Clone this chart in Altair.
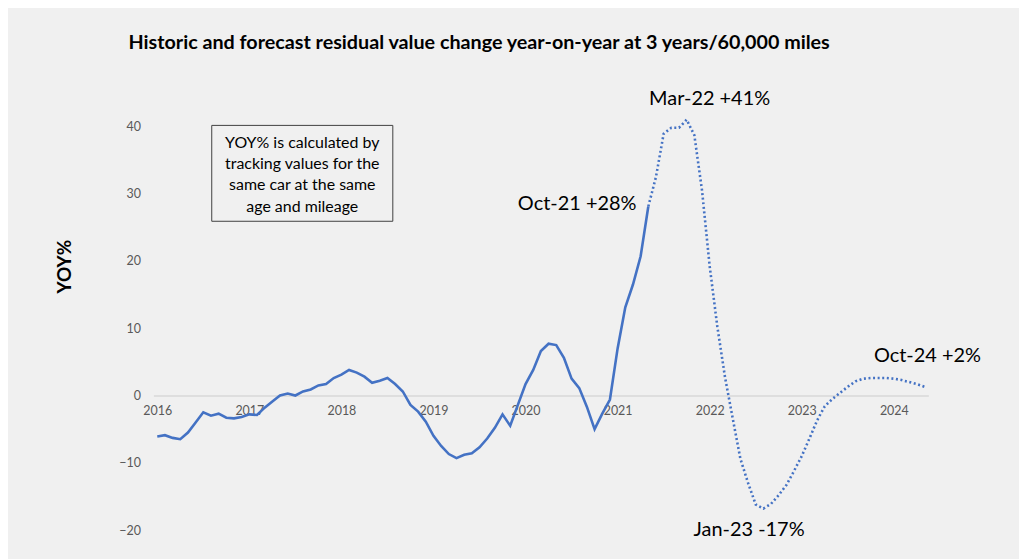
import altair as alt
import pandas as pd

# ---- data (month index 0 = Jun-2016, monthly) ----
hist_values = [-6.1, -5.9, -6.3, -6.5, -5.5, -4.0, -2.5, -3.0, -2.7, -3.3, -3.4, -3.2,
               -2.8, -2.9, -1.8, -0.9, 0.0, 0.3, 0.0, 0.6, 0.9, 1.5, 1.7, 2.6,
               3.1, 3.8, 3.4, 2.8, 1.9, 2.2, 2.6, 1.7, 0.6, -1.4, -2.4, -3.9,
               -6.0, -7.5, -8.7, -9.3, -8.8, -8.6, -7.7, -6.4, -4.8, -2.8, -4.5, -1.4,
               1.7, 3.8, 6.6, 7.7, 7.5, 5.6, 2.5, 1.1, -1.7, -5.0, -2.7, -0.6,
               7.0, 13.1, 16.5, 20.7, 28.1]
forecast_values = [28.1, 32.5, 38.9, 39.8, 39.8, 41.0, 38.7, 30.5, 19.2, 10.2, 2.7, -3.4,
                   -9.4, -13.0, -16.2, -16.8, -16.1, -14.8, -13.3, -11.2, -9.0, -6.4, -3.7, -1.6,
                   -0.5, 0.4, 1.3, 2.1, 2.5, 2.6, 2.6, 2.6, 2.5, 2.3, 2.0, 1.7, 1.3]
forecast_start = 64

year_labels = ["2016", "2017", "2018", "2019", "2020", "2021", "2022", "2023", "2024"]
year_ticks = [0, 12, 24, 36, 48, 60, 72, 84, 96]
y_ticks = [-20, -10, 0, 10, 20, 30, 40]

ann_text = ["Mar-22 +41%", "Oct-21 +28%", "Jan-23 -17%", "Oct-24 +2%"]
ann_x = [64.1, 47.0, 69.9, 93.4]
ann_y = [44.1, 28.4, -20.0, 5.9]

box_lines = ["YOY% is calculated by", "tracking values for the", "same car at the same", "age and mileage"]
box_x = [7.1, 30.7]
box_y = [40.15, 25.9]
box_first_line = [18.9, 37.6]

TITLE = "Historic and forecast residual value change year-on-year at 3 years/60,000 miles"
FONT = "Lato"
BLUE = "#4472C4"

hist_df = pd.DataFrame({"i": list(range(len(hist_values))), "v": hist_values})
fc_df = pd.DataFrame({"i": list(range(forecast_start, forecast_start + len(forecast_values))),
                      "v": forecast_values})
ann_df = pd.DataFrame({"i": ann_x, "v": ann_y, "t": ann_text})
box_df = pd.DataFrame({"i": [box_x[0]], "i2": [box_x[1]], "v": [box_y[0]], "v2": [box_y[1]]})
boxtxt_df = pd.DataFrame({"i": [box_first_line[0]], "v": [box_first_line[1]], "t": [box_lines]})

label_arr = "[" + ",".join("'%s'" % s for s in year_labels) + "]"

x_scale = alt.Scale(domain=[-0.5, 100.5], nice=False, zero=False)
y_scale = alt.Scale(domain=[-20, 45], nice=False, zero=False)

x_axis = alt.Axis(values=year_ticks, labelExpr=label_arr + "[round(datum.value/12)]",
                  offset=-135, domainColor="#d9d9d9", domainWidth=1.5, ticks=False,
                  grid=False, labelColor="#595959", labelFontSize=12.5, labelFont=FONT,
                  labelPadding=9, title=None, labelFlush=False)
y_axis = alt.Axis(values=y_ticks, grid=False, domain=False, ticks=False,
                  labelColor="#595959", labelFontSize=12.5, labelFont=FONT, labelPadding=13,
                  title="YOY%", titleFontSize=19, titleFont=FONT, titleFontWeight="bold",
                  titleColor="#000000", titlePadding=44, titleY=174)

X = alt.X("i:Q", scale=x_scale, axis=x_axis)
Y = alt.Y("v:Q", scale=y_scale, axis=y_axis)

hist_line = alt.Chart(hist_df).mark_line(color=BLUE, strokeWidth=2.6).encode(x=X, y=Y)
fc_line = alt.Chart(fc_df).mark_line(color=BLUE, strokeWidth=2.6, strokeDash=[2, 2.6]).encode(x=X, y=Y)

box = alt.Chart(box_df).mark_rect(fillOpacity=0, stroke="#404040", strokeWidth=1).encode(
    x=X, x2="i2:Q", y=Y, y2="v2:Q")
box_text = alt.Chart(boxtxt_df).mark_text(font=FONT, fontSize=16, lineHeight=21.5,
                                          align="center", baseline="middle", color="#000000").encode(
    x=X, y=Y, text="t")
ann = alt.Chart(ann_df).mark_text(font=FONT, fontSize=20, align="left", baseline="middle",
                                  color="#000000").encode(x=X, y=Y, text="t:N")

chart = alt.layer(hist_line, fc_line, box, box_text, ann).properties(
    width=778, height=439,
    title=alt.TitleParams(TITLE, font=FONT, fontSize=19.8, fontWeight="bold", color="#000000",
                          anchor="middle", dx=-62, offset=36),
    background="#f0f0f0",
    padding={"left": 48, "top": 24, "right": 38, "bottom": 30},
).configure_view(stroke=None)

chart.save("out.html", embed_options={"renderer": "svg", "actions": False})
